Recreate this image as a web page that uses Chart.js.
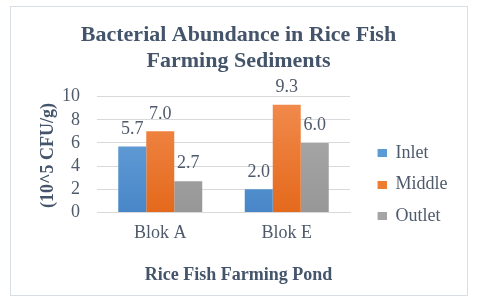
<!DOCTYPE html>
<html>
<head>
<meta charset="utf-8">
<script src="https://cdn.jsdelivr.net/npm/chart.js@4/dist/chart.umd.min.js"></script>
<style>
  html, body { margin: 0; padding: 0; background: #fff; }
</style>
</head>
<body>
<canvas id="myChart" width="480" height="306"></canvas>
<script>
// chart data
const categories = ["Blok A", "Blok E"];
const seriesNames = ["Inlet", "Middle", "Outlet"];
const inlet = [5.7, 2.0];
const middle = [7.0, 9.3];
const outlet = [2.7, 6.0];
const yTickValues = [0, 2, 4, 6, 8, 10];
const yTitle = "(10^5 CFU/g)";

const serif = "'Liberation Serif', 'Times New Roman', serif";
const titleColor = "#44546A";
const textColor = "#4E5A6B";
const swatchColors = ["#5B9BD5", "#ED7D31", "#A5A5A5"];

// vertical gradient like the Excel bars
const barFill = (top, bottom, solid) => (context) => {
  const area = context.chart.chartArea;
  if (!area) return solid;
  const g = context.chart.ctx.createLinearGradient(0, area.top, 0, area.bottom);
  g.addColorStop(0, top);
  g.addColorStop(1, bottom);
  return g;
};

// small legend square, drawn at the right end of a wider swatch
const swatch = (color) => {
  const c = document.createElement("canvas");
  c.width = 23;
  c.height = 8;
  const g = c.getContext("2d");
  g.fillStyle = color;
  g.fillRect(14, 0, 9, 8);
  return c;
};

// value labels above each bar
const valueLabels = {
  id: "valueLabels",
  afterDatasetsDraw(chart) {
    const ctx = chart.ctx;
    ctx.save();
    ctx.font = "18px " + serif;
    ctx.fillStyle = textColor;
    ctx.textAlign = "center";
    ctx.textBaseline = "middle";
    chart.data.datasets.forEach((ds, i) => {
      chart.getDatasetMeta(i).data.forEach((bar, j) => {
        ctx.fillText(ds.data[j].toFixed(1), bar.x, bar.y - 17.5);
      });
    });
    ctx.restore();
  }
};

// rotated y axis title, kept clear of the tick labels
const yAxisTitle = {
  id: "yAxisTitle",
  afterDraw(chart) {
    const ctx = chart.ctx;
    const area = chart.chartArea;
    ctx.save();
    ctx.translate(chart.scales.y.right - 48.5, (area.top + area.bottom) / 2 + 1);
    ctx.rotate(-Math.PI / 2);
    ctx.font = "bold 18px " + serif;
    ctx.fillStyle = titleColor;
    ctx.textAlign = "center";
    ctx.textBaseline = "middle";
    ctx.fillText(yTitle, 0, 0);
    ctx.restore();
  }
};

// light frame round the chart
const frame = {
  id: "frame",
  beforeDraw(chart) {
    const ctx = chart.ctx;
    ctx.save();
    ctx.strokeStyle = "#D9DEE6";
    ctx.lineWidth = 1;
    ctx.strokeRect(10.5, 6.5, 457, 289);
    ctx.restore();
  }
};

const ctx = document.getElementById("myChart").getContext("2d");
const myChart = new Chart(ctx, {
  type: "bar",
  data: {
    labels: categories,
    datasets: [
      { label: seriesNames[0], data: inlet, backgroundColor: barFill("#6EA7DC", "#4886C8", swatchColors[0]) },
      { label: seriesNames[1], data: middle, backgroundColor: barFill("#F28C4E", "#E4691C", swatchColors[1]) },
      { label: seriesNames[2], data: outlet, backgroundColor: barFill("#ADADAD", "#979797", swatchColors[2]) }
    ]
  },
  options: {
    responsive: false,
    animation: false,
    events: [],
    layout: { padding: { left: 19.5, right: 22.5, top: 0, bottom: 0 } },
    datasets: {
      bar: { categoryPercentage: 0.664, barPercentage: 1, borderWidth: 0 }
    },
    scales: {
      y: {
        min: yTickValues[0],
        max: yTickValues[yTickValues.length - 1],
        afterBuildTicks: (s) => { s.ticks = yTickValues.map(v => ({ value: v })); },
        afterFit: (s) => { s.width = 77.5; },
        grid: { color: "#D9D9D9", drawTicks: false },
        border: { display: false },
        ticks: { color: textColor, padding: 17, autoSkip: false, font: { family: serif, size: 18 } }
      },
      x: {
        afterFit: (s) => { s.height = 31.6; },
        grid: { display: false, drawTicks: false },
        border: { color: "#D9D9D9" },
        ticks: { color: textColor, padding: 10, maxRotation: 0, font: { family: serif, size: 18 } }
      }
    },
    plugins: {
      tooltip: { enabled: false },
      title: {
        display: true,
        text: ["Bacterial Abundance in Rice Fish", "Farming Sediments"],
        color: titleColor,
        font: { family: serif, size: 22, weight: "bold", lineHeight: 1.2 },
        padding: { top: 21.8, bottom: 22 }
      },
      subtitle: {
        display: true,
        position: "bottom",
        text: "Rice Fish Farming Pond",
        color: titleColor,
        font: { family: serif, size: 18, weight: "bold", lineHeight: 1.2 },
        padding: { top: 20.5, bottom: 19.8 }
      },
      legend: {
        position: "right",
        title: { display: true, text: " ", font: { size: 18 }, padding: { top: 0, bottom: 41.4 } },
        labels: {
          usePointStyle: true,
          pointStyleWidth: 23,
          boxHeight: 8,
          padding: 13.5,
          color: textColor,
          font: { family: serif, size: 18 },
          generateLabels: (chart) => {
            const items = Chart.defaults.plugins.legend.labels.generateLabels(chart);
            items.forEach((item, i) => { item.pointStyle = swatch(swatchColors[i]); });
            return items;
          }
        }
      }
    }
  },
  plugins: [valueLabels, yAxisTitle, frame]
});
</script>
</body>
</html>
